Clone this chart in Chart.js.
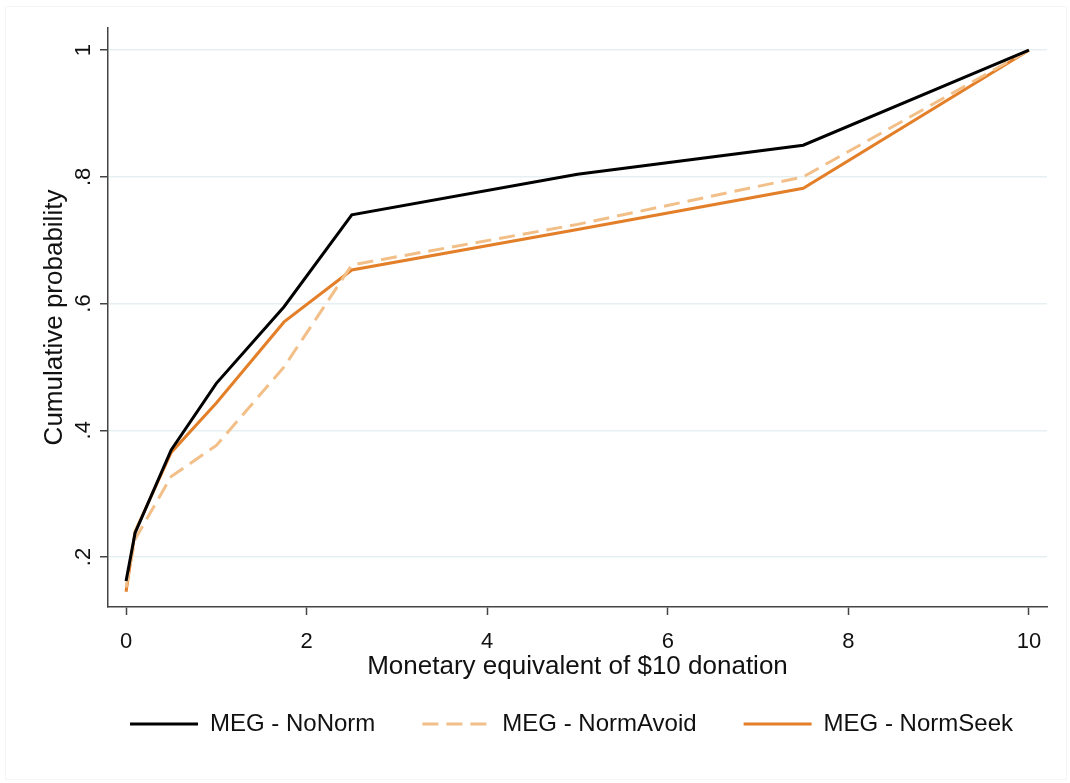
<!DOCTYPE html>
<html>
<head>
<meta charset="utf-8">
<script src="https://cdn.jsdelivr.net/npm/chart.js@4"></script>
<style>
  html, body { margin: 0; padding: 0; background: #fff; }
  #wrap { position: relative; width: 1070px; height: 783px; }
  #frame { position: absolute; left: 5px; top: 6px; right: 3px; bottom: 3px; border: 1px solid #f6f6f6; }
</style>
</head>
<body>
<div id="wrap">
  <div id="frame"></div>
  <canvas id="line-chartcanvas" width="1070" height="783"></canvas>
</div>
<script>
// monetary equivalent values (x) and cumulative probabilities per group
var meg = [0, 0.1, 0.5, 1, 1.75, 2.5, 5, 7.5, 10];
var noNorm    = [0.162, 0.238, 0.369, 0.474, 0.595, 0.740, 0.804, 0.850, 1];
var normAvoid = [0.152, 0.228, 0.327, 0.376, 0.500, 0.661, 0.725, 0.800, 1];
var normSeek  = [0.145, 0.240, 0.365, 0.443, 0.571, 0.653, 0.717, 0.782, 1];
var xTicks = [0, 2, 4, 6, 8, 10];
var yTicks = [0.2, 0.4, 0.6, 0.8, 1];
var yTickLabels = [".2", ".4", ".6", ".8", "1"];

var FONT = "'Liberation Sans', Arial, sans-serif";
var AXIS = "#444";

function pts(ys) {
  var out = [];
  for (var i in meg) out.push({ x: meg[i], y: ys[i] });
  return out;
}

//rotated y tick labels, Stata style
var yLabelPlugin = {
  id: "yLabels",
  afterLayout: function(chart) {
    // center legend under the plot region instead of the whole canvas
    chart.legend.left += 48;
    chart.legend.right += 48;
  },
  afterDraw: function(chart) {
    var ctx = chart.ctx;
    var y = chart.scales.y;
    ctx.save();
    ctx.font = "22px " + FONT;
    ctx.fillStyle = "#111";
    ctx.textAlign = "center";
    ctx.textBaseline = "middle";
    for (var i in yTicks) {
      var py = y.getPixelForValue(yTicks[i]);
      ctx.save();
      ctx.translate(84, py);
      ctx.rotate(-Math.PI / 2);
      ctx.fillText(yTickLabels[i], 0, 0);
      ctx.restore();
    }
    ctx.restore();
  }
};

var data = {
  datasets: [
    {
      label: "MEG - NoNorm",
      data: pts(noNorm),
      borderColor: "#000000",
      backgroundColor: "#000000",
      borderWidth: 3
    },
    {
      label: "MEG - NormAvoid",
      data: pts(normAvoid),
      borderColor: "#f2bf88",
      backgroundColor: "#f2bf88",
      borderWidth: 3,
      borderDash: [16, 8]
    },
    {
      label: "MEG - NormSeek",
      data: pts(normSeek),
      borderColor: "#e37f29",
      backgroundColor: "#e37f29",
      borderWidth: 3
    }
  ]
};

var options = {
  responsive: false,
  animation: false,
  layout: { padding: { top: 28, right: 23, bottom: 37, left: 0 } },
  elements: {
    point: { radius: 0 },
    line: { tension: 0, fill: false, borderJoinStyle: "miter" }
  },
  plugins: {
    tooltip: { enabled: false },
    legend: {
      display: true,
      position: "bottom",
      labels: {
        usePointStyle: true,
        pointStyle: "line",
        pointStyleWidth: 68,
        padding: 47,
        color: "#111",
        font: { family: FONT, size: 24 },
        generateLabels: function(chart) {
          var items = Chart.defaults.plugins.legend.labels.generateLabels(chart);
          items.forEach(function(it) {
            var ds = chart.data.datasets[it.datasetIndex];
            it.lineDash = ds.borderDash || [];
            it.strokeStyle = ds.borderColor;
            it.lineWidth = 3;
          });
          return items;
        }
      }
    }
  },
  scales: {
    x: {
      type: "linear",
      min: -0.2,
      max: 10.2,
      afterBuildTicks: function(s) { s.ticks = xTicks.map(function(v) { return { value: v }; }); },
      afterFit: function(s) { s.height = 58; },
      border: { display: true, color: AXIS, width: 1.5 },
      grid: { drawOnChartArea: false, drawTicks: true, tickLength: 8, tickColor: AXIS, tickWidth: 1.5 },
      ticks: { color: "#111", padding: 14, maxRotation: 0, font: { family: FONT, size: 22 } },
      title: {
        display: true,
        text: "Monetary equivalent of $10 donation",
        color: "#111",
        font: { family: FONT, size: 26 },
        padding: { top: 0, bottom: -17.6 }
      }
    },
    y: {
      type: "linear",
      min: 0.121,
      max: 1.035,
      afterBuildTicks: function(s) { s.ticks = yTicks.map(function(v) { return { value: v }; }); },
      afterFit: function(s) { s.width = 108; },
      border: { display: true, color: AXIS, width: 1.5 },
      grid: { color: "#e6eff1", lineWidth: 1.5, drawTicks: true, tickLength: 8, tickColor: AXIS, tickWidth: 1.5 },
      ticks: { display: false },
      title: {
        display: true,
        text: "Cumulative probability",
        color: "#111",
        font: { family: FONT, size: 26 },
        padding: { top: 39, bottom: 0 }
      }
    }
  }
};

var ctx = document.getElementById("line-chartcanvas");
var chart = new Chart(ctx, {
  type: "line",
  data: data,
  options: options,
  plugins: [yLabelPlugin]
});
</script>
</body>
</html>
